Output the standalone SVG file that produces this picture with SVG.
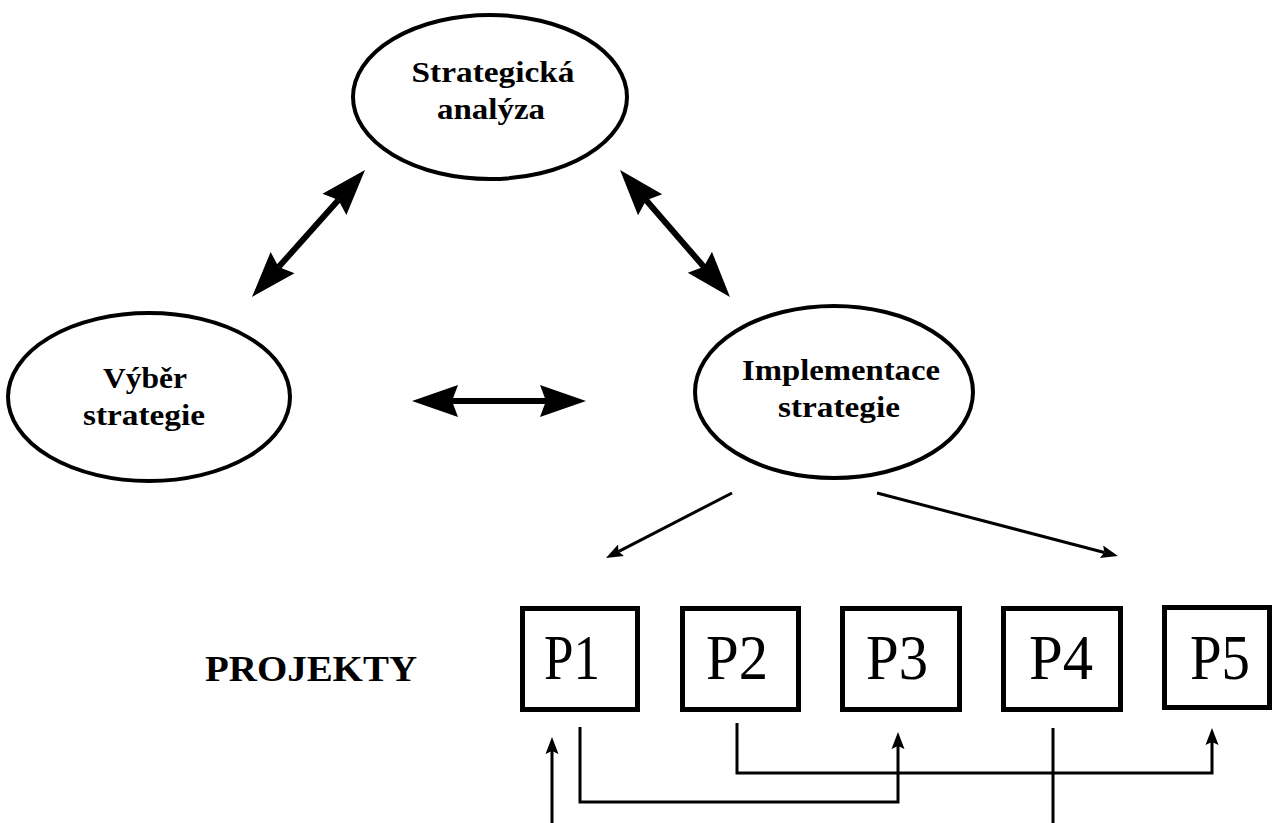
<svg xmlns="http://www.w3.org/2000/svg" width="1277" height="823" viewBox="0 0 1277 823">
  <style>
    .ell { fill: #fff; stroke: #000; stroke-width: 4; }
    .lbl { font-family: "Liberation Serif", "Times New Roman", serif; font-weight: bold; font-size: 30px; fill: #000; text-anchor: middle; }
    .box { fill: #fff; stroke: #000; stroke-width: 5; }
    .ptxt { font-family: "Liberation Serif", "Times New Roman", serif; font-size: 64px; fill: #000; text-anchor: middle; }
    .proj { font-family: "Liberation Serif", "Times New Roman", serif; font-weight: bold; font-size: 36px; fill: #000; }
    .thick { fill: none; stroke: #000; stroke-width: 6; }
    .thin { fill: none; stroke: #000; stroke-width: 3; }
  </style>
  <defs>
    <marker id="big" markerUnits="userSpaceOnUse" markerWidth="50" markerHeight="34" refX="6" refY="17" orient="auto-start-reverse">
      <path d="M0,1 L46,17 L0,33 L6,17 Z" fill="#000"/>
    </marker>
    <marker id="small" markerUnits="userSpaceOnUse" markerWidth="20" markerHeight="16" refX="3" refY="7" orient="auto">
      <path d="M0,0.5 L17,7 L0,13.5 L3,7 Z" fill="#000"/>
    </marker>
  </defs>
  <rect width="1277" height="823" fill="#fff"/>

  <g id="strategicka-analyza">
    <ellipse class="ell" cx="490" cy="97" rx="137" ry="82"/>
    <text class="lbl" x="493" y="82" textLength="163" lengthAdjust="spacingAndGlyphs">Strategická</text>
    <text class="lbl" x="491" y="119" textLength="108" lengthAdjust="spacingAndGlyphs">analýza</text>
  </g>

  <g id="vyber-strategie">
    <ellipse class="ell" cx="149" cy="397" rx="141" ry="84"/>
    <text class="lbl" x="145" y="388" textLength="84" lengthAdjust="spacingAndGlyphs">Výběr</text>
    <text class="lbl" x="144" y="425" textLength="122" lengthAdjust="spacingAndGlyphs">strategie</text>
  </g>

  <g id="implementace-strategie">
    <ellipse class="ell" cx="834" cy="392" rx="139" ry="86"/>
    <text class="lbl" x="841" y="380" textLength="198" lengthAdjust="spacingAndGlyphs">Implementace</text>
    <text class="lbl" x="839" y="417" textLength="122" lengthAdjust="spacingAndGlyphs">strategie</text>
  </g>

  <g id="projekty-label">
    <text class="proj" x="205" y="681" textLength="212" lengthAdjust="spacingAndGlyphs">PROJEKTY</text>
  </g>

  <g id="p1">
    <rect class="box" x="522.5" y="608.5" width="115" height="101"/>
    <text class="ptxt" x="572" y="679" textLength="56" lengthAdjust="spacingAndGlyphs">P1</text>
  </g>
  <g id="p2">
    <rect class="box" x="682.5" y="608.5" width="116" height="101"/>
    <text class="ptxt" x="737" y="679" textLength="62" lengthAdjust="spacingAndGlyphs">P2</text>
  </g>
  <g id="p3">
    <rect class="box" x="842.5" y="608.5" width="117" height="101"/>
    <text class="ptxt" x="897" y="679" textLength="62" lengthAdjust="spacingAndGlyphs">P3</text>
  </g>
  <g id="p4">
    <rect class="box" x="1003.5" y="608.5" width="117" height="101"/>
    <text class="ptxt" x="1061" y="679" textLength="64" lengthAdjust="spacingAndGlyphs">P4</text>
  </g>
  <g id="p5">
    <rect class="box" x="1164.5" y="607.5" width="105" height="100"/>
    <text class="ptxt" x="1220" y="679" textLength="60" lengthAdjust="spacingAndGlyphs">P5</text>
  </g>

  <g id="connectors">
    <line class="thick" x1="338.4" y1="199.9" x2="278.6" y2="267.1" marker-start="url(#big)" marker-end="url(#big)"/>
    <line class="thick" x1="646.2" y1="200.2" x2="703.8" y2="266.8" marker-start="url(#big)" marker-end="url(#big)"/>
    <line class="thick" x1="452" y1="401" x2="546" y2="401" marker-start="url(#big)" marker-end="url(#big)"/>

    <line class="thin" x1="732" y1="493" x2="618.4" y2="551.6" marker-end="url(#small)"/>
    <line class="thin" x1="877" y1="493" x2="1104.4" y2="552.5" marker-end="url(#small)"/>

    <line class="thin" x1="552" y1="823" x2="552" y2="751" marker-end="url(#small)"/>
    <path class="thin" d="M580,727 V802 H898 V746" marker-end="url(#small)"/>
    <path class="thin" d="M737,723 V773 H1212 V742" marker-end="url(#small)"/>
    <line class="thin" x1="1053" y1="728" x2="1053" y2="823"/>
  </g>
</svg>
